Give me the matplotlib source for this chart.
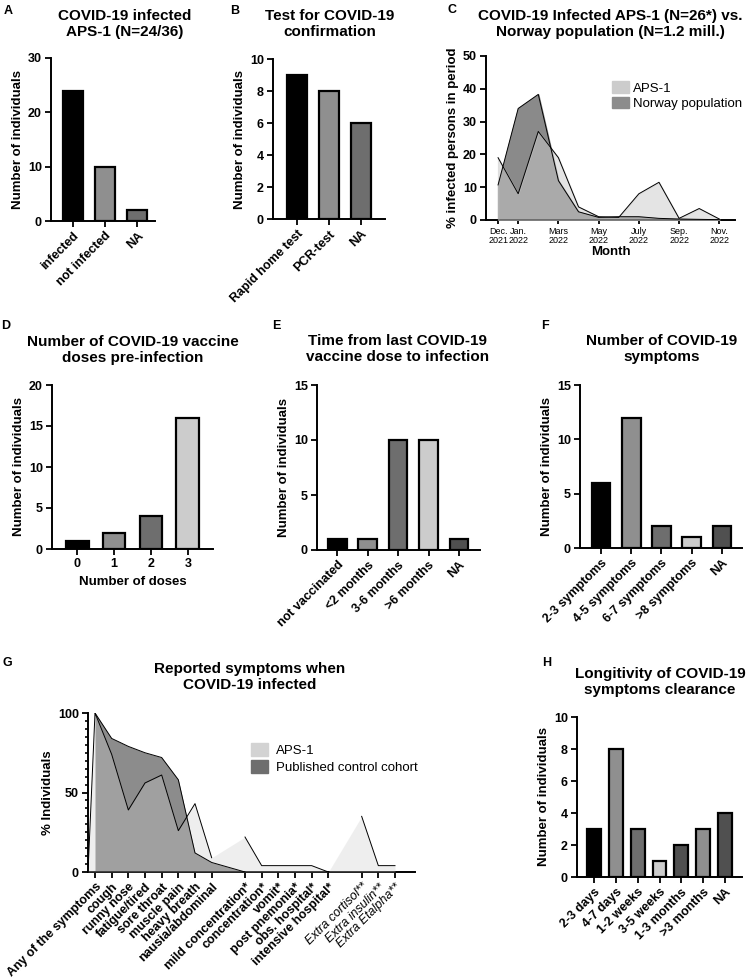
import matplotlib
matplotlib.use("Agg")
import matplotlib.pyplot as plt
import numpy as np
from matplotlib.patches import Patch
from matplotlib.ticker import MultipleLocator

plt.rcParams['font.family'] = ['Liberation Sans', 'DejaVu Sans']

# ---- data ----
a_labels = ["infected", "not infected", "NA"]
a_values = [24, 10, 2]

b_labels = ["Rapid home test", "PCR-test", "NA"]
b_values = [9, 8, 6]

c_months = ["Dec.\n2021", "Jan.\n2022", "", "Mars\n2022", "", "May\n2022", "",
            "July\n2022", "", "Sep.\n2022", "", "Nov.\n2022"]
c_aps = [19, 8, 27, 19, 4, 1, 0.8, 8, 11.5, 0.5, 3.5, 0.3]
c_norway = [10.7, 34, 38.3, 12, 2.5, 0.8, 1, 1, 0.5, 0.3, 0.2, 0.1]

d_labels = ["0", "1", "2", "3"]
d_values = [1, 2, 4, 16]

e_labels = ["not vaccinated", "<2 months", "3-6 months", ">6 months", "NA"]
e_values = [1, 1, 10, 10, 1]

f_labels = ["2-3 symptoms", "4-5 symptoms", "6-7 symptoms", ">8 symptoms", "NA"]
f_values = [6, 12, 2, 1, 2]

g_labels = ["Any of the symptoms", "cough", "runny nose", "fatigue/tired", "sore throat",
            "muscle pain", "heavy breath", "nausia/abdominal",
            "mild concentration*", "concentration*", "vomit*", "post pnemonia*",
            "obs. hospital*", "intensive hospital*",
            "Extra cortisol**", "Extra insulin**", "Extra Etalpha**"]
g_slots = [0, 1, 2, 3, 4, 5, 6, 7, 9, 10, 11, 12, 13, 14, 16, 17, 18]
g_aps = [100, 74, 39, 56, 61, 26, 43, 9, 22, 4, 4, 4, 4, 0, 35, 4, 4]
g_ctrl = [100, 84, 79, 75, 72, 58, 12, 6, 0]

h_labels = ["2-3 days", "4-7 days", "1-2 weeks", "3-5 weeks", "1-3 months", ">3 months", "NA"]
h_values = [3, 8, 3, 1, 2, 3, 4]

BLACK, MID, DARK, LIGHT, DARKER = "#000000", "#8f8f8f", "#6e6e6e", "#cccccc", "#505050"

W, H = 747, 980
fig = plt.figure(figsize=(W / 100, H / 100), dpi=100)


def box(x0, y_top, x1, y_bot):
    return [x0 / W, 1 - y_bot / H, (x1 - x0) / W, (y_bot - y_top) / H]


def ftext(x, y, s, **kw):
    fig.text(x / W, 1 - y / H, s, **kw)


def style(ax):
    for s in ["top", "right"]:
        ax.spines[s].set_visible(False)
    for s in ["left", "bottom"]:
        ax.spines[s].set_linewidth(1.4)
    ax.tick_params(width=1.3, length=4.5, labelsize=9, pad=2)
    for t in ax.get_yticklabels():
        t.set_fontweight("bold")


def bar_panel(rect, labels, values, colors, xlim, ymax, ystep, rot=45, width=0.62):
    ax = fig.add_axes(rect)
    x = np.arange(len(values))
    ax.bar(x, values, width=width, color=colors, edgecolor="black", linewidth=1.6, zorder=3)
    ax.set_xlim(*xlim)
    ax.set_ylim(0, ymax)
    ax.set_yticks(np.arange(0, ymax + 0.1, ystep))
    ax.set_xticks(x)
    if rot:
        ax.set_xticklabels(labels, rotation=rot, ha="right", va="top",
                           rotation_mode="anchor", fontweight="bold", fontsize=9)
    else:
        ax.set_xticklabels(labels, fontweight="bold", fontsize=9)
    ax.set_ylabel("Number of individuals", fontweight="bold", fontsize=9.5, labelpad=3)
    style(ax)
    return ax


TK = dict(fontsize=11, fontweight="bold", ha="center", va="center", linespacing=1.15)
LT = dict(fontsize=9, fontweight="bold", ha="center", va="center")

# A
bar_panel(box(51, 58, 155, 221), a_labels, a_values, [BLACK, MID, DARK], (-0.69, 2.56), 30, 10)
ftext(125, 24, "COVID-19 infected\nAPS-1 (N=24/36)", **TK)
ftext(8, 11, "A", **LT)

# B
bar_panel(box(273, 59, 385, 219), b_labels, b_values, [BLACK, MID, DARK], (-0.75, 2.75), 10, 2)
ftext(330, 24, "Test for COVID-19\nconfirmation", **TK)
ftext(235, 11, "B", **LT)

# C
axc = fig.add_axes(box(486, 56, 735, 220))
xc = np.arange(len(c_months))
axc.fill_between(xc, c_norway, color="#8a8a8a", zorder=2)
axc.plot(xc, c_norway, color="black", lw=0.7, zorder=4)
axc.fill_between(xc, c_aps, color="#cacaca", alpha=0.5, zorder=3)
axc.plot(xc, c_aps, color="black", lw=0.7, zorder=4)
axc.set_xlim(-0.6, 11.78)
axc.set_ylim(0, 50)
axc.set_yticks(np.arange(0, 51, 10))
lab_idx = [i for i, m in enumerate(c_months) if m]
axc.set_xticks(lab_idx)
axc.set_xticklabels([c_months[i] for i in lab_idx], fontsize=6.5, linespacing=1.0)
axc.set_ylabel("% infected persons in period", fontweight="bold", fontsize=9.5, labelpad=3)
axc.set_xlabel("Month", fontweight="bold", fontsize=9.5, labelpad=1)
style(axc)
axc.tick_params(axis="x", labelsize=6.5, length=3)
fig.legend(handles=[Patch(color="#cccccc", label="APS-1"),
                    Patch(color="#8c8c8c", label="Norway population")],
           loc="upper left", bbox_to_anchor=(603 / W, 1 - 72 / H), frameon=False,
           fontsize=9.5, handlelength=1.3, handleheight=1.0, handletextpad=0.3,
           labelspacing=0.15, borderpad=0.2)
ftext(610, 24, "COVID-19 Infected APS-1 (N=26*) vs.\nNorway population (N=1.2 mill.)", **TK)
ftext(452, 10, "C", **LT)

# D
axd = bar_panel(box(52, 385, 213, 549), d_labels, d_values, [BLACK, MID, DARK, LIGHT],
                (-0.68, 3.68), 20, 5, rot=0)
axd.set_xlabel("Number of doses", fontweight="bold", fontsize=9.5, labelpad=4)
ftext(133, 350, "Number of COVID-19 vaccine\ndoses pre-infection", **TK)
ftext(6, 326, "D", **LT)

# E
bar_panel(box(317, 385, 480, 550), e_labels, e_values, [BLACK, MID, DARK, LIGHT, DARKER],
          (-0.66, 4.69), 15, 5)
ftext(398, 349, "Time from last COVID-19\nvaccine dose to infection", **TK)
ftext(276, 326, "E", **LT)

# F
bar_panel(box(580, 385, 742, 548), f_labels, f_values, [BLACK, MID, DARK, LIGHT, DARKER],
          (-0.69, 4.66), 15, 5)
ftext(662, 349, "Number of COVID-19\nsymptoms", **TK)
ftext(545, 326, "F", **LT)

# G
axg = fig.add_axes(box(88, 713, 415, 872))
x0 = -0.42
ctrl_x = g_slots[:len(g_ctrl)]
axg.fill_between(ctrl_x, g_ctrl, color="#8c8c8c", zorder=2, lw=0)
axg.plot(ctrl_x, g_ctrl, color="black", lw=0.7, zorder=4)
aps_x = [x0] + g_slots
aps_y = [0] + g_aps
axg.fill_between(aps_x, aps_y, color="#cdcdcd", alpha=0.32, zorder=3, lw=0)
# line drawn per group of adjacent categories
groups = [(0, 8), (8, 14), (14, 17)]
for gi, (s, e) in enumerate(groups):
    xs = g_slots[s:e]
    ys = g_aps[s:e]
    if gi == 0:
        xs = [x0] + xs
        ys = [0] + ys
    axg.plot(xs, ys, color="black", lw=0.7, zorder=4)
axg.set_xlim(x0, 19.2)
axg.set_ylim(0, 100)
axg.set_yticks([0, 50, 100])
axg.yaxis.set_minor_locator(MultipleLocator(5))
axg.set_xticks(g_slots)
axg.set_xticklabels(g_labels, rotation=45, ha="right", va="top", rotation_mode="anchor",
                    fontsize=9)
for i, t in enumerate(axg.get_xticklabels()):
    if g_labels[i].startswith("Extra"):
        t.set_fontstyle("italic")
        t.set_fontweight("normal")
    else:
        t.set_fontweight("bold")
axg.set_ylabel("% Individuals", fontweight="bold", fontsize=9.5, labelpad=3)
style(axg)
axg.tick_params(axis="y", which="minor", length=2.5, width=1.2)
fig.legend(handles=[Patch(color="#d3d3d3", label="APS-1"),
                    Patch(color="#6e6e6e", label="Published control cohort")],
           loc="upper left", bbox_to_anchor=(242 / W, 1 - 734 / H), frameon=False,
           fontsize=9.5, handlelength=1.3, handleheight=1.1, handletextpad=0.6,
           labelspacing=0.25, borderpad=0.2)
ftext(250, 677, "Reported symptoms when\nCOVID-19 infected", **TK)
ftext(7, 663, "G", **LT)

# H
bar_panel(box(577, 717, 742, 877), h_labels, h_values,
          [BLACK, MID, DARK, LIGHT, DARKER, MID, DARKER], (-0.78, 6.78), 10, 2, width=0.64)
ftext(660, 682, "Longitivity of COVID-19\nsymptoms clearance", **TK)
ftext(547, 663, "H", **LT)

fig.savefig("out.png", dpi=100)
